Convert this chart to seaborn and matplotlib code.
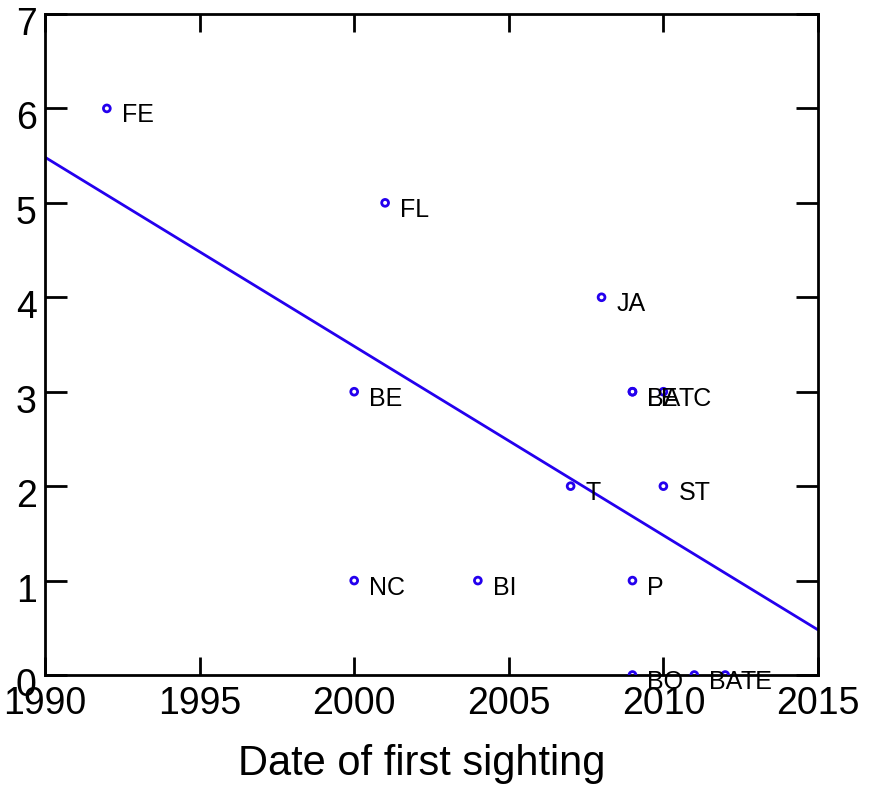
import matplotlib
matplotlib.use("Agg")
import matplotlib.pyplot as plt
import matplotlib.transforms as mtrans
import seaborn as sns
import pandas as pd

# data
years = [1992, 2001, 2008, 2000, 2009, 2009, 2010, 2007, 2010, 2000, 2004, 2009, 2009, 2011, 2012]
counts = [6, 5, 4, 3, 3, 3, 3, 2, 2, 1, 1, 1, 0, 0, 0]
codes = ["FE", "FL", "JA", "BE", "BA", "LE", "TC", "T", "ST", "NC", "BI", "P", "BO", "BA", "TE"]
x_ticks = [1990, 1995, 2000, 2005, 2010, 2015]
y_ticks = [0, 1, 2, 3, 4, 5, 6, 7]

df = pd.DataFrame({"year": years, "count": counts, "code": codes})

sns.set_style("ticks")
plt.rcParams["font.family"] = ["Liberation Sans", "DejaVu Sans"]
plt.rcParams["text.color"] = "black"
plt.rcParams["axes.labelcolor"] = "black"
plt.rcParams["xtick.labelcolor"] = "black"
plt.rcParams["ytick.labelcolor"] = "black"

blue = "#2400ee"

fig = plt.figure(figsize=(8.74, 7.85), dpi=100)
ax = fig.add_axes([0.0515, 0.1401, 0.8844, 0.8421])
ax.set_xlim(1990, 2015)
ax.set_ylim(0, 7)

sns.scatterplot(data=df, x="year", y="count", ax=ax, s=24, marker="o",
                facecolor="none", edgecolor=blue, linewidth=2, zorder=3)
sns.regplot(data=df, x="year", y="count", ax=ax, scatter=False, ci=None,
            truncate=False, color=blue, line_kws={"linewidth": 2})

for _, r in df.iterrows():
    ax.annotate(r["code"], (r["year"], r["count"]), xytext=(15, -14),
                textcoords="offset pixels", va="baseline", ha="left",
                fontsize=18, color="black", zorder=4)

ax.set_xlim(1990, 2015)
ax.set_ylim(0, 7)
ax.set_xticks(x_ticks)
ax.set_yticks(y_ticks)
ax.set_xlabel("Date of first sighting", fontsize=30, color="black")
ax.xaxis.set_label_coords(0.487, -0.105)
ax.set_ylabel("")

for s in ax.spines.values():
    s.set_visible(True)
    s.set_linewidth(2)
    s.set_color("black")

ax.tick_params(axis="x", direction="in", length=13, width=2, labelsize=27,
               pad=8, top=True, color="black", labelcolor="black")
ax.tick_params(axis="y", direction="in", length=16, width=2, labelsize=27,
               pad=6, right=True, color="black", labelcolor="black")

# nudge y tick labels down a bit like the original
shift = mtrans.ScaledTranslation(0, -0.07, fig.dpi_scale_trans)
for lab in ax.get_yticklabels():
    lab.set_transform(lab.get_transform() + shift)

fig.savefig("out.png", dpi=100)
